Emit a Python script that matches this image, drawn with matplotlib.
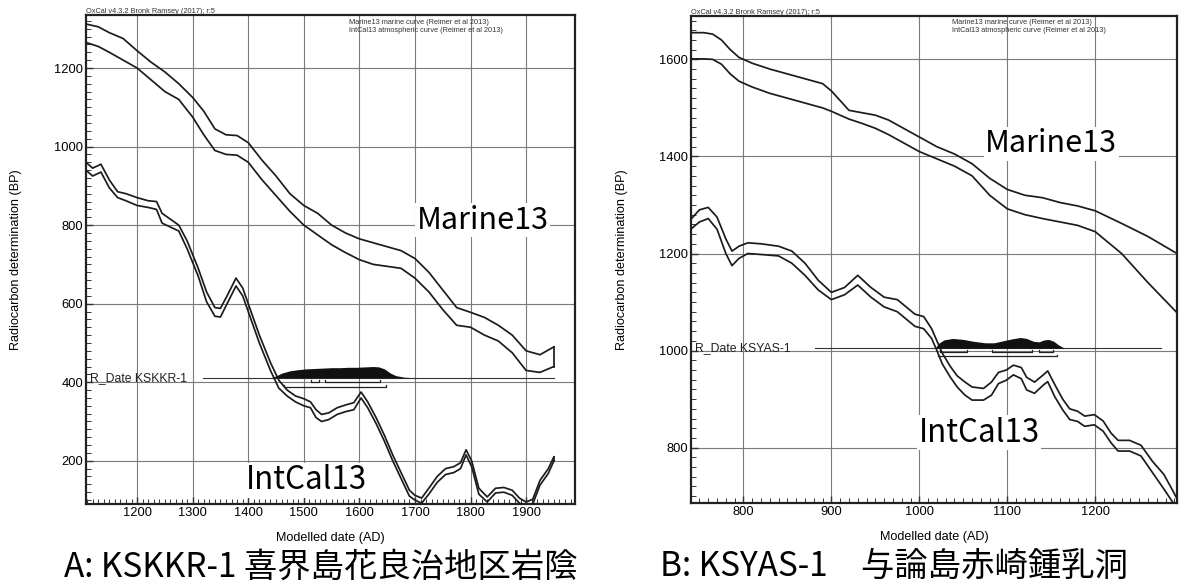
import matplotlib
matplotlib.use('Agg')
import matplotlib.pyplot as plt
from matplotlib.ticker import MultipleLocator

plt.rcParams['font.family'] = ['Liberation Sans', 'DejaVu Sans']
CJK = ['Noto Sans CJK JP', 'DejaVu Sans']

# ---------------- Panel A: KSKKR-1 ----------------
a_xlim = (1108, 1988)
a_ylim = (90, 1335)
a_xticks = [1200, 1300, 1400, 1500, 1600, 1700, 1800, 1900]
a_yticks = [200, 400, 600, 800, 1000, 1200]

a_marine_year = [1108, 1130, 1150, 1175, 1200, 1225, 1250, 1275, 1300, 1320, 1340, 1360,
                 1380, 1400, 1425, 1450, 1475, 1500, 1525, 1550, 1575, 1600, 1625, 1650,
                 1675, 1700, 1725, 1750, 1775, 1800, 1825, 1850, 1875, 1900, 1925, 1950]
a_marine_hi = [1312, 1305, 1290, 1275, 1244, 1215, 1190, 1160, 1125, 1090, 1045, 1030,
               1028, 1010, 965, 925, 880, 850, 830, 800, 780, 765, 755, 745,
               735, 715, 680, 635, 590, 578, 565, 545, 520, 480, 470, 490]
a_marine_lo = [1265, 1255, 1240, 1220, 1200, 1170, 1140, 1120, 1075, 1030, 990, 980,
               978, 960, 915, 875, 835, 800, 775, 750, 730, 712, 700, 695,
               690, 665, 630, 585, 545, 540, 520, 505, 475, 430, 425, 440]

a_intcal_year = [1108, 1120, 1135, 1150, 1165, 1180, 1200, 1220, 1235, 1245, 1260, 1275,
                 1290, 1310, 1325, 1340, 1350, 1362, 1378, 1390, 1405, 1420, 1440, 1455,
                 1470, 1485, 1500, 1512, 1522, 1532, 1545, 1560, 1575, 1590, 1603, 1615,
                 1630, 1645, 1660, 1675, 1690, 1700, 1712, 1725, 1740, 1755, 1770, 1782,
                 1792, 1802, 1815, 1830, 1845, 1860, 1875, 1888, 1900, 1912, 1925, 1940, 1950]
a_intcal_hi = [960, 945, 955, 915, 885, 880, 870, 862, 860, 830, 815, 800,
               760, 690, 630, 590, 588, 620, 665, 640, 580, 520, 450, 405,
               380, 365, 358, 350, 330, 318, 322, 335, 342, 348, 375, 350,
               310, 265, 215, 170, 125, 112, 105, 130, 160, 180, 185, 195,
               228, 200, 130, 108, 130, 132, 125, 105, 95, 102, 150, 180, 210]
a_intcal_lo = [940, 925, 935, 895, 870, 862, 850, 845, 840, 805, 795, 785,
               740, 670, 605, 568, 566, 600, 645, 620, 560, 500, 430, 385,
               365, 350, 340, 335, 310, 300, 305, 318, 325, 330, 360, 335,
               295, 250, 200, 155, 110, 100, 92, 115, 145, 165, 170, 180,
               215, 185, 115, 95, 118, 120, 112, 92, 85, 90, 138, 168, 200]

a_rdate_label = 'R_Date KSKKR-1'
a_rdate_bp = 411
a_rdate_span = [1318, 1950]
a_dist_year = [1440, 1450, 1460, 1475, 1490, 1505, 1520, 1535, 1550, 1565, 1580,
               1595, 1610, 1625, 1635, 1645, 1655, 1665, 1680, 1700]
a_dist_h = [0, 5, 12, 18, 21, 23, 24, 25, 26, 26, 27, 27, 28, 29, 28, 23, 13, 6, 2, 0]
a_sigma1 = [(1513, 1528), (1538, 1637)]
a_sigma2 = [(1465, 1648)]

# ---------------- Panel B: KSYAS-1 ----------------
b_xlim = (740.4, 1293)
b_ylim = (686, 1690)
b_xticks = [800, 900, 1000, 1100, 1200]
b_yticks = [800, 1000, 1200, 1400, 1600]

b_marine_year = [740, 755, 765, 775, 785, 795, 810, 830, 850, 870, 890, 900, 910, 920,
                 935, 950, 965, 980, 1000, 1020, 1040, 1060, 1080, 1100, 1120, 1140,
                 1160, 1180, 1200, 1230, 1260, 1293]
b_marine_hi = [1655, 1655, 1652, 1640, 1620, 1604, 1592, 1580, 1570, 1560, 1550, 1535, 1515, 1495,
               1490, 1485, 1475, 1460, 1440, 1420, 1405, 1385, 1355, 1332, 1320, 1315,
               1305, 1298, 1288, 1262, 1235, 1200]
b_marine_lo = [1601, 1601, 1600, 1590, 1570, 1555, 1543, 1530, 1520, 1510, 1500, 1493, 1485, 1477,
               1468, 1458, 1445, 1430, 1410, 1395, 1380, 1360, 1320, 1292, 1280, 1272,
               1265, 1258, 1245, 1200, 1140, 1078]

b_intcal_year = [740, 750, 760, 770, 780, 787, 795, 805, 820, 840, 855, 870, 885, 900,
                 915, 930, 945, 960, 975, 985, 995, 1005, 1014, 1020, 1026, 1035, 1043,
                 1052, 1060, 1073, 1082, 1090, 1099, 1107, 1116, 1122, 1131, 1141, 1146,
                 1154, 1163, 1171, 1180, 1188, 1199, 1209, 1218, 1226, 1239, 1252, 1265,
                 1278, 1288, 1293]
b_intcal_hi = [1270, 1290, 1295, 1275, 1230, 1205, 1215, 1222, 1220, 1215, 1205, 1180, 1145, 1120,
               1130, 1155, 1130, 1110, 1105, 1090, 1075, 1070, 1045, 1020, 995, 968, 948,
               935, 925, 922, 935, 955, 960, 970, 965, 945, 935, 950, 958,
               930, 900, 880, 875, 865, 868, 855, 830, 815, 815, 805, 772,
               745, 712, 695]
b_intcal_lo = [1250, 1265, 1272, 1250, 1200, 1175, 1190, 1200, 1198, 1195, 1180, 1155, 1125, 1105,
               1115, 1135, 1110, 1090, 1080, 1065, 1050, 1045, 1025, 1000, 973, 946, 925,
               908, 898, 898, 908, 932, 939, 950, 942, 919, 912, 929, 936,
               905, 878, 858, 854, 844, 847, 834, 810, 793, 793, 783, 749,
               715, 688, 672]

b_rdate_label = 'R_Date KSYAS-1'
b_rdate_bp = 1005
b_rdate_span = [881, 1275]
b_dist_year = [1018, 1022, 1028, 1038, 1050, 1062, 1075, 1085, 1095, 1105, 1115, 1122,
               1130, 1136, 1142, 1147, 1153, 1158, 1165]
b_dist_h = [0, 10, 17, 20, 18, 14, 11, 11, 15, 19, 22, 20, 14, 13, 17, 18, 14, 7, 0]
b_sigma1 = [(1024, 1054), (1083, 1128), (1136, 1152)]
b_sigma2 = [(1021, 1157)]

# ---------------- Texts ----------------
oxcal_text = 'OxCal v4.3.2 Bronk Ramsey (2017); r:5'
curve_text = ['Marine13 marine curve (Reimer et al 2013)',
              'IntCal13 atmospheric curve (Reimer et al 2013)']
xlabel = 'Modelled date (AD)'
ylabel = 'Radiocarbon determination (BP)'
caption_a = 'A: KSKKR-1 喜界島花良治地区岩陰'
caption_b = 'B: KSYAS-1\u3000与論島赤崎鍾乳洞'

LINE = '#1c1c1c'
GRID = '#7a7a7a'


def panel(ax, xlim, ylim, xticks, yticks, m_year, m_hi, m_lo, i_year, i_hi, i_lo,
          rlabel, rbp, rspan, d_year, d_h, s1, s2, sig_step, marine_pos, intcal_pos):
    ax.set_xlim(*xlim)
    ax.set_ylim(*ylim)
    ax.set_xticks(xticks)
    ax.set_yticks(yticks)
    ax.xaxis.set_minor_locator(MultipleLocator(10))
    ax.yaxis.set_minor_locator(MultipleLocator(20))
    ax.grid(True, which='major', color=GRID, lw=0.8, zorder=0)
    ax.set_axisbelow(True)
    ax.tick_params(which='both', direction='in', top=False, right=False,
                   labelsize=9.3, pad=2, color='#333')
    ax.tick_params(which='major', length=5, width=1.0)
    ax.tick_params(which='minor', length=3.5, width=0.7)
    for s in ax.spines.values():
        s.set_linewidth(1.6)
        s.set_color('#222')

    # curves
    ax.plot(m_year, m_hi, color=LINE, lw=1.25, zorder=3)
    ax.plot(m_year, m_lo, color=LINE, lw=1.25, zorder=3)
    ax.plot([m_year[-1], m_year[-1]], [m_lo[-1], m_hi[-1]], color=LINE, lw=1.25, zorder=3)
    ax.plot(i_year, i_hi, color=LINE, lw=1.25, zorder=3)
    ax.plot(i_year, i_lo, color=LINE, lw=1.25, zorder=3)
    ax.plot([i_year[-1], i_year[-1]], [i_lo[-1], i_hi[-1]], color=LINE, lw=1.25, zorder=3)

    # R_Date
    ax.plot(rspan, [rbp, rbp], color='#333', lw=0.8, zorder=4)
    ax.fill_between(d_year, [rbp] * len(d_year), [rbp + h for h in d_h],
                    color='#111', lw=0, zorder=4)
    y1 = rbp - sig_step
    for a, b in s1:
        ax.plot([a, a, b, b], [y1 + sig_step * 0.45, y1, y1, y1 + sig_step * 0.45],
                color='#222', lw=0.9, zorder=4)
    y2 = rbp - 2.1 * sig_step
    for a, b in s2:
        ax.plot([a, a, b, b], [y2 + sig_step * 0.45, y2, y2, y2 + sig_step * 0.45],
                color='#222', lw=0.9, zorder=4)
    ax.text(xlim[0] + (xlim[1] - xlim[0]) * 0.008, rbp, rlabel, fontsize=8.8,
            va='center', ha='left', color='#222', zorder=5)

    ax.text(0, 1.0, oxcal_text, transform=ax.transAxes, fontsize=5.3,
            va='bottom', ha='left', color='#333')
    ax.text(0.537, 0.985, curve_text[0], transform=ax.transAxes, fontsize=5.3,
            va='center', ha='left', color='#333')
    ax.text(0.537, 0.969, curve_text[1], transform=ax.transAxes, fontsize=5.3,
            va='center', ha='left', color='#333')

    box = dict(facecolor='white', edgecolor='none', pad=1.0)
    ax.text(marine_pos[0], marine_pos[1], 'Marine13', fontsize=22, family=CJK,
            ha='center', va='center', bbox=box, zorder=6)
    ax.text(intcal_pos[0], intcal_pos[1], 'IntCal13', fontsize=22.5, family=CJK,
            ha='center', va='center', bbox=box, zorder=6)

    ax.set_xlabel(xlabel, fontsize=9.1)
    ax.set_ylabel(ylabel, fontsize=9.1)
    ax.xaxis.set_label_coords(0.5, -0.058)
    ax.yaxis.set_label_coords(-0.13, 0.5)


fig = plt.figure(figsize=(11.79, 5.85), dpi=100)
axA = fig.add_axes([0.0729, 0.1385, 0.4148, 0.8359])
axB = fig.add_axes([0.5861, 0.1402, 0.4122, 0.8330])

panel(axA, a_xlim, a_ylim, a_xticks, a_yticks, a_marine_year, a_marine_hi, a_marine_lo,
      a_intcal_year, a_intcal_hi, a_intcal_lo, a_rdate_label, a_rdate_bp, a_rdate_span,
      a_dist_year, a_dist_h, a_sigma1, a_sigma2, 11, (1822, 812), (1505, 150))
panel(axB, b_xlim, b_ylim, b_xticks, b_yticks, b_marine_year, b_marine_hi, b_marine_lo,
      b_intcal_year, b_intcal_hi, b_intcal_lo, b_rdate_label, b_rdate_bp, b_rdate_span,
      b_dist_year, b_dist_h, b_sigma1, b_sigma2, 8, (1150, 1426), (1068, 831))

fig.text(0.272, 0.030, caption_a, fontsize=24, family=CJK, ha='center', va='center')
fig.text(0.758, 0.032, caption_b, fontsize=24, family=CJK, ha='center', va='center')

fig.savefig('out.png', dpi=100)
